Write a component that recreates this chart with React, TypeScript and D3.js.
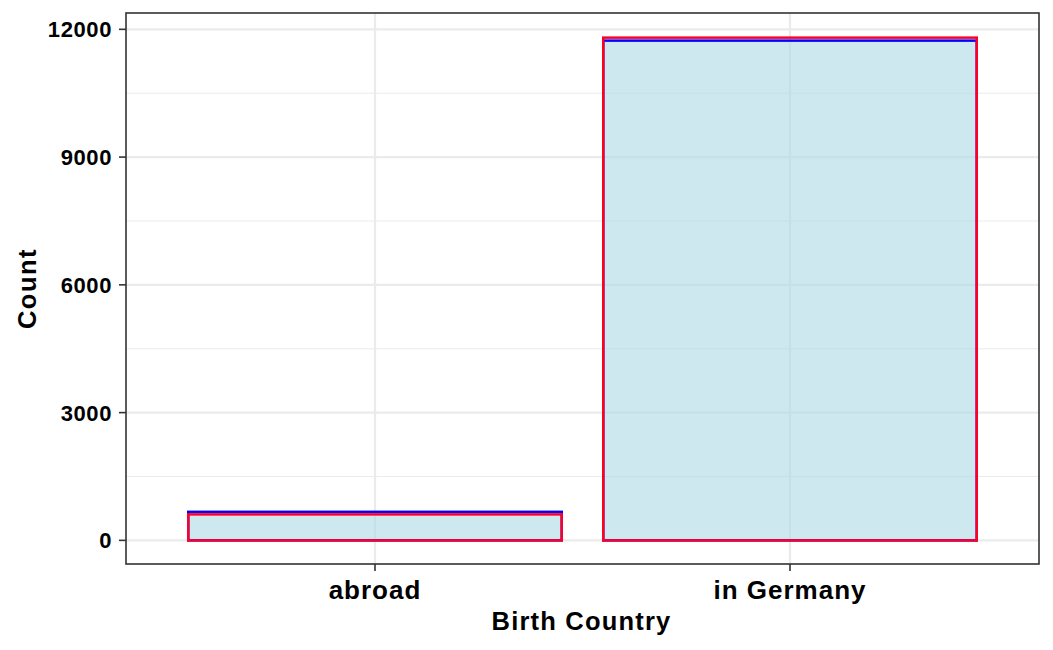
import React from 'react';
import * as d3 from 'd3';

const categories = ['abroad', 'in Germany'];
const countsBlue = [670, 11735];
const countsRed = [610, 11805];
const yTicks = [0, 3000, 6000, 9000, 12000];
const yMinor = [1500, 4500, 7500, 10500];

const W = 1053;
const H = 650;
const panel = { left: 126, top: 13, right: 1039, bottom: 564 };
const font = '"Liberation Sans", Arial, Helvetica, sans-serif';

export default function App() {
  // ggplot discrete expansion of 0.6 units each side
  const x = d3.scalePoint<string>()
    .domain(categories)
    .range([panel.left, panel.right])
    .padding(0.6);
  const bandStep = x.step();
  const barW = bandStep * 0.9;

  const maxV = d3.max([...countsBlue, ...countsRed]) as number;
  const y = d3.scaleLinear()
    .domain([-0.047 * maxV, 1.049 * maxV])
    .range([panel.bottom, panel.top]);

  const bars = (vals: number[], color: string, fill: boolean) =>
    vals.map((v, i) => (
      <rect key={color + i}
        x={(x(categories[i]) as number) - barW / 2} width={barW}
        y={y(v)} height={y(0) - y(v)}
        fill={fill ? '#add8e6' : 'none'} fillOpacity={fill ? 0.6 : 0}
        stroke={color} strokeWidth={2.5} />
    ));

  return (
    <svg width={W} height={H} style={{ display: 'block', position: 'absolute', left: 0, top: 0 }}>
      <rect x={0} y={0} width={W} height={H} fill="white" />
      {yMinor.map(t => (
        <line key={'mi' + t} x1={panel.left} x2={panel.right} y1={y(t)} y2={y(t)}
          stroke="#ebebeb" strokeWidth={1.1} />
      ))}
      {yTicks.map(t => (
        <line key={'ma' + t} x1={panel.left} x2={panel.right} y1={y(t)} y2={y(t)}
          stroke="#ebebeb" strokeWidth={2.2} />
      ))}
      {categories.map(c => (
        <line key={'vx' + c} x1={x(c)} x2={x(c)} y1={panel.top} y2={panel.bottom}
          stroke="#ebebeb" strokeWidth={2.2} />
      ))}
      {bars(countsBlue, '#0000ff', true)}
      {bars(countsRed, '#ff0022', false)}
      <rect x={panel.left} y={panel.top} width={panel.right - panel.left}
        height={panel.bottom - panel.top} fill="none" stroke="#333333" strokeWidth={1.6} />
      {yTicks.map(t => (
        <g key={'yt' + t}>
          <line x1={panel.left - 7} x2={panel.left} y1={y(t)} y2={y(t)} stroke="#333333" strokeWidth={1.6} />
          <text x={panel.left - 14} y={y(t)} dy="0.36em" textAnchor="end" letterSpacing={0.6}
            fontFamily={font} fontWeight="bold" fontSize={22} fill="black">{t}</text>
        </g>
      ))}
      {categories.map(c => (
        <g key={'xt' + c}>
          <line x1={x(c)} x2={x(c)} y1={panel.bottom} y2={panel.bottom + 7} stroke="#333333" strokeWidth={1.6} />
          <text x={x(c)} y={599} textAnchor="middle" letterSpacing={1}
            fontFamily={font} fontWeight="bold" fontSize={26} fill="black">{c}</text>
        </g>
      ))}
      <text x={(panel.left + panel.right) / 2 - 1} y={630} textAnchor="middle" letterSpacing={1.2}
        fontFamily={font} fontWeight="bold" fontSize={25.5} fill="black">Birth Country</text>
      <text transform={`translate(36, ${(panel.top + panel.bottom) / 2}) rotate(-90)`} textAnchor="middle"
        letterSpacing={1.5} fontFamily={font} fontWeight="bold" fontSize={25.5} fill="black">Count</text>
    </svg>
  );
}
